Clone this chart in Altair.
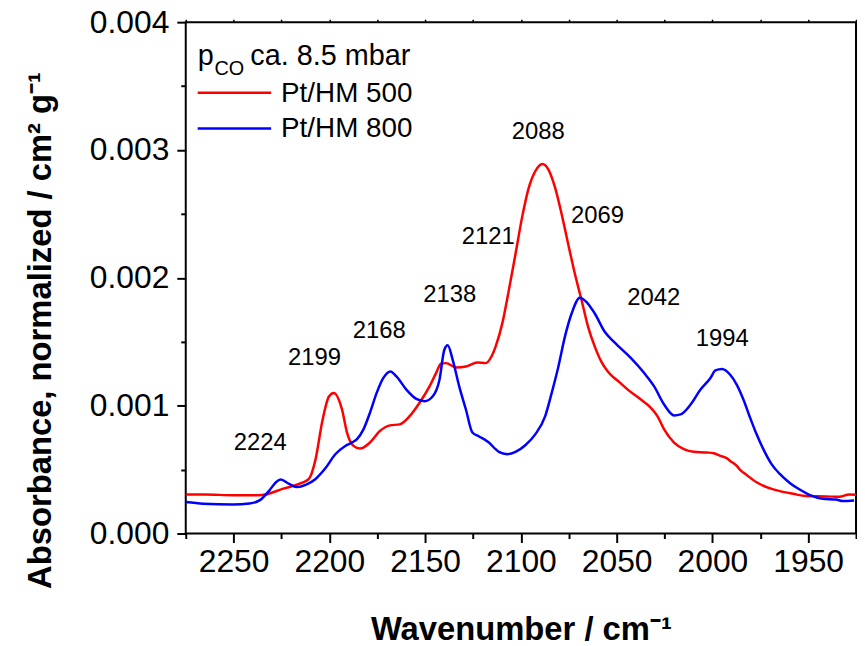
import altair as alt
import pandas as pd

# ---- data ----
series_names = ["Pt/HM 500", "Pt/HM 800"]
series_colors = ["#FF0000", "#0000FF"]

red_wn = [2275, 2265, 2250, 2240, 2235, 2224.5, 2214.5, 2210.7, 2207.2, 2203.8, 2200.3,
          2197.7, 2193.4, 2190.8, 2187.4, 2184.0, 2178.8, 2173.6, 2168.4, 2163.3, 2158.1,
          2152.9, 2147.7, 2144.3, 2141.7, 2139.1, 2133.9, 2128.7, 2122.7, 2118.4, 2114.9,
          2113.2, 2109.7, 2106.3, 2102.8, 2099.4, 2095.9, 2092.5, 2088.7, 2085.6, 2082.1,
          2078.7, 2075.3, 2071.8, 2068.3, 2064.9, 2061.4, 2058.0, 2054.6, 2051.1, 2049.4,
          2044.2, 2037.3, 2032.1, 2028.7, 2025.2, 2020.0, 2014.9, 2009.7, 2002.8, 1999.3,
          1995.9, 1992.4, 1990.7, 1987.3, 1985.5, 1982.1, 1976.9, 1971.7, 1964.8, 1957.9,
          1951.0, 1940.6, 1933.7, 1928.6, 1925]
red_abs = [0.000305, 0.000305, 0.000300, 0.000300, 0.000302, 0.000349, 0.000396, 0.000427,
           0.000582, 0.000870, 0.001070, 0.001100, 0.000970, 0.000790, 0.000686, 0.000665,
           0.000712, 0.000802, 0.000846, 0.000854, 0.000918, 0.001023, 0.001151, 0.001255,
           0.001328, 0.001333, 0.001299, 0.001307, 0.001338, 0.001333, 0.001398, 0.001462,
           0.001644, 0.001902, 0.002187, 0.002471, 0.002704, 0.002834, 0.002891, 0.002847,
           0.002704, 0.002498, 0.002265, 0.002032, 0.001825, 0.001617, 0.001462, 0.001345,
           0.001268, 0.001215, 0.001195, 0.001126, 0.001048, 0.000983, 0.000918, 0.000815,
           0.000712, 0.000660, 0.000639, 0.000634, 0.000628, 0.000608, 0.000588, 0.000568,
           0.000530, 0.000498, 0.000458, 0.000401, 0.000363, 0.000332, 0.000311, 0.000293,
           0.000290, 0.000287, 0.000305, 0.000303]

blue_wn = [2275, 2265.9, 2250.4, 2241.7, 2236.5, 2231.4, 2227.9, 2225.4, 2221.0, 2216.7,
           2212.4, 2207.2, 2202.1, 2196.9, 2191.7, 2188.2, 2185.6, 2182.2, 2178.8, 2175.3,
           2171.8, 2168.1, 2165.0, 2159.8, 2154.6, 2150.3, 2146.0, 2142.5, 2140.0, 2138.2,
           2135.6, 2132.2, 2128.7, 2125.3, 2121.8, 2116.7, 2113.2, 2111.5, 2107.1, 2102.8,
           2097.7, 2092.5, 2087.3, 2083.9, 2080.4, 2077.0, 2073.5, 2069.2, 2065.7, 2061.4,
           2056.2, 2051.1, 2049.4, 2042.5, 2035.6, 2030.4, 2025.2, 2020.0, 2016.6, 2011.4,
           2006.2, 2001.0, 1998.4, 1995.0, 1990.7, 1987.3, 1983.8, 1980.3, 1976.9, 1973.4,
           1969.1, 1964.8, 1959.6, 1954.4, 1949.3, 1942.4, 1935.5, 1932.0, 1926.0]
blue_abs = [0.000246, 0.000233, 0.000227, 0.000235, 0.000259, 0.000336, 0.000401, 0.000422,
            0.000388, 0.000363, 0.000380, 0.000427, 0.000510, 0.000620, 0.000685, 0.000712,
            0.000738, 0.000815, 0.000945, 0.001100, 0.001217, 0.001268, 0.001229, 0.001126,
            0.001053, 0.001035, 0.001074, 0.001203, 0.001436, 0.001473, 0.001359, 0.001151,
            0.000970, 0.000790, 0.000759, 0.000712, 0.000660, 0.000639, 0.000621, 0.000639,
            0.000691, 0.000776, 0.000918, 0.001100, 0.001307, 0.001540, 0.001721, 0.001845,
            0.001811, 0.001721, 0.001578, 0.001495, 0.001470, 0.001372, 0.001255, 0.001151,
            0.001009, 0.000924, 0.000932, 0.001009, 0.001126, 0.001217, 0.001276, 0.001287,
            0.001242, 0.001165, 0.001048, 0.000906, 0.000776, 0.000660, 0.000543, 0.000466,
            0.000396, 0.000344, 0.000303, 0.000272, 0.000266, 0.000254, 0.000259]

peak_labels = ["2224", "2199", "2168", "2138", "2121", "2088", "2069", "2042", "1994"]
peak_wn = [2236.1, 2207.8, 2173.9, 2137.1, 2117.0, 2090.9, 2060.0, 2030.6, 1994.9]
peak_abs = [0.000708, 0.001369, 0.001582, 0.001866, 0.002320, 0.003144, 0.002487, 0.001842, 0.001518]

legend_title_parts = ["p", "CO", "ca. 8.5 mbar"]

x_major = [2250, 2200, 2150, 2100, 2050, 2000, 1950]
x_minor = [2275, 2225, 2175, 2125, 2075, 2025, 1975, 1925]
x_all = [2275, 2250, 2225, 2200, 2175, 2150, 2125, 2100, 2075, 2050, 2025, 2000, 1975, 1950, 1925]
y_major = [0.000, 0.001, 0.002, 0.003, 0.004]
y_minor = [0.0005, 0.0015, 0.0025, 0.0035]
y_all = [0.0, 0.0005, 0.001, 0.0015, 0.002, 0.0025, 0.003, 0.0035, 0.004]

x_title = "Wavenumber / cm\u207b\u00b9"
y_title = "Absorbance, normalized / cm\u00b2 g\u207b\u00b9"

FONT = "Liberation Sans"

df = pd.concat([
    pd.DataFrame({"wn": red_wn, "abs": red_abs, "sample": series_names[0], "ord": range(len(red_wn))}),
    pd.DataFrame({"wn": blue_wn, "abs": blue_abs, "sample": series_names[1], "ord": range(len(blue_wn))}),
], ignore_index=True)
peaks = pd.DataFrame({"wn": peak_wn, "abs": peak_abs, "label": peak_labels})

xs = alt.Scale(domain=[1925, 2275], reverse=True, nice=False, zero=False)
ys = alt.Scale(domain=[0, 0.004], nice=False, zero=False)
cs = alt.Scale(domain=series_names, range=series_colors)

base = alt.Chart(df)

lines = base.mark_line(strokeWidth=2.5, interpolate="monotone").encode(
    x=alt.X("wn:Q", scale=xs, axis=alt.Axis(
        orient="bottom", values=x_major, format="d", labelFontSize=32, labelFont=FONT,
        labelColor="black", tickSize=9, tickWidth=2, tickColor="black", domain=False,
        labelPadding=4, grid=False, title=x_title, titleFont=FONT, titleFontSize=33,
        titleFontWeight="bold", titleColor="black", titleY=107, titleBaseline="alphabetic")),
    y=alt.Y("abs:Q", scale=ys, axis=alt.Axis(
        orient="left", values=y_major, format=".3f", labelFontSize=32, labelFont=FONT,
        labelColor="black", tickSize=9, tickWidth=2, tickColor="black", domain=False,
        labelPadding=8, grid=False, title=y_title, titleFont=FONT, titleFontSize=33,
        titleFontWeight="bold", titleColor="black", titleX=-136, titleY=310,
        titleBaseline="alphabetic", titleAngle=270)),
    color=alt.Color("sample:N", scale=cs, legend=None),
    order="ord:Q",
)

minor = base.mark_point(opacity=0).encode(
    x=alt.X("wn:Q", scale=xs, axis=alt.Axis(
        orient="bottom", values=x_minor, labels=False, tickSize=5, tickWidth=2,
        tickColor="black", domain=False, grid=False, title=None)),
    y=alt.Y("abs:Q", scale=ys, axis=alt.Axis(
        orient="left", values=y_minor, labels=False, tickSize=5, tickWidth=2,
        tickColor="black", domain=False, grid=False, title=None)),
)

mirror = base.mark_point(opacity=0).encode(
    x=alt.X("wn:Q", scale=xs, axis=alt.Axis(
        orient="top", values=x_all, labels=False, tickSize=3, tickWidth=1.5,
        tickColor="black", domain=False, grid=False, title=None)),
    y=alt.Y("abs:Q", scale=ys, axis=alt.Axis(
        orient="right", values=y_all, labels=False, tickSize=3, tickWidth=1.5,
        tickColor="black", domain=False, grid=False, title=None)),
)

ann = alt.Chart(peaks).mark_text(fontSize=24, font=FONT, color="black",
                                 align="center", baseline="middle").encode(
    x=alt.X("wn:Q", scale=xs, axis=None),
    y=alt.Y("abs:Q", scale=ys, axis=None),
    text="label:N",
)

# legend (drawn by hand so the row spacing matches)
leg_layers = []
for i, name in enumerate(series_names):
    ldf = pd.DataFrame({"sample": [name]})
    leg_layers.append(alt.Chart(ldf).mark_rule(strokeWidth=2.5).encode(
        x=alt.value(12), x2=alt.value(86), y=alt.value(71 + 36 * i),
        color=alt.Color("sample:N", scale=cs, legend=None)))
    leg_layers.append(alt.Chart(ldf).mark_text(
        fontSize=28, font=FONT, color="black", align="left", baseline="middle").encode(
        text="sample:N", x=alt.value(96), y=alt.value(72 + 36 * i)))

lt_p = alt.Chart(pd.DataFrame({"t": [legend_title_parts[0]]})).mark_text(
    fontSize=29, font=FONT, color="black", align="left", baseline="alphabetic").encode(
    text="t:N", x=alt.value(12), y=alt.value(43))
lt_co = alt.Chart(pd.DataFrame({"t": [legend_title_parts[1]]})).mark_text(
    fontSize=20, font=FONT, color="black", align="left", baseline="alphabetic").encode(
    text="t:N", x=alt.value(29), y=alt.value(53))
lt_rest = alt.Chart(pd.DataFrame({"t": [legend_title_parts[2]]})).mark_text(
    fontSize=29, font=FONT, color="black", align="left", baseline="alphabetic").encode(
    text="t:N", x=alt.value(65), y=alt.value(43))

chart = alt.layer(lines, minor, mirror, ann, *leg_layers, lt_p, lt_co, lt_rest).resolve_axis(
    x="independent", y="independent"
).properties(
    width=675, height=515, autosize="none",
    padding={"left": 179, "top": 12, "right": 1, "bottom": 111},
    background="white",
).configure_view(stroke="black", strokeWidth=2)

chart.save("out.html", embed_options={"renderer": "svg", "actions": False})
